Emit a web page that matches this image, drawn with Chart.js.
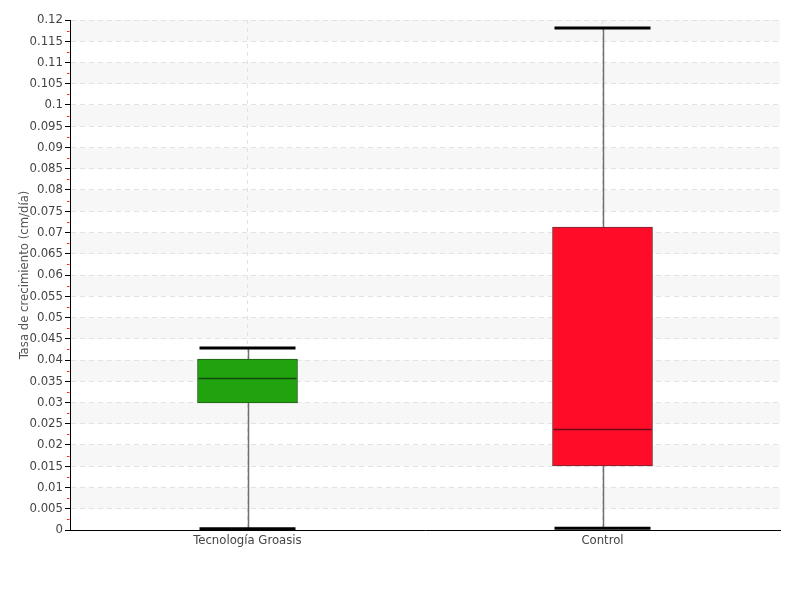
<!DOCTYPE html>
<html lang="es">
<head>
    <meta charset="UTF-8">
    <title>Tasa de crecimiento</title>
    <script src="https://cdn.jsdelivr.net/npm/chart.js"></script>
    <style>
        html, body { margin: 0; padding: 0; background: #fff; }
        #wrap { width: 800px; height: 600px; }
    </style>
</head>
<body>
    <div id="wrap"><canvas id="chart" width="800" height="600"></canvas></div>

    <script>
        // data
        const categories = ['Tecnología Groasis', 'Control'];
        const whiskerMin = [0.0003, 0.0004];
        const q1Values = [0.0299, 0.0151];
        const medianValues = [0.0358, 0.0238];
        const q3Values = [0.0402, 0.0713];
        const whiskerMax = [0.0428, 0.1181];
        const boxColors = ['#22a20f', '#ff0c28'];
        const boxBorders = ['#1f5a17', '#6e2a30'];
        const medianColors = ['#0f4a0c', '#6a0a16'];

        const yMin = 0, yMax = 0.12, yStep = 0.005;
        const fontFamily = '"DejaVu Sans Condensed", "Liberation Sans Narrow", "Roboto", sans-serif';

        // light grey bands behind every second grid row (drawn under the grid)
        const bandPlugin = {
            id: 'bands',
            beforeDraw(chart) {
                const { ctx, chartArea, scales: { y } } = chart;
                ctx.save();
                ctx.fillStyle = '#f7f7f7';
                const n = Math.round((yMax - yMin) / yStep);
                for (let k = 1; k < n; k += 2) {
                    const top = y.getPixelForValue(yMin + (k + 1) * yStep);
                    const bottom = y.getPixelForValue(yMin + k * yStep);
                    ctx.fillRect(chartArea.left + 1, top, chartArea.right - chartArea.left - 1, bottom - top);
                }
                ctx.restore();
            }
        };

        // whiskers, caps and medians around the floating bars
        const boxPlugin = {
            id: 'boxParts',
            beforeDatasetsDraw(chart) {
                const { ctx, scales: { x, y } } = chart;
                ctx.save();
                categories.forEach((c, i) => {
                    const cx = Math.round(x.getPixelForValue(i)) + 0.5;
                    ctx.strokeStyle = '#707070';
                    ctx.lineWidth = 1.5;
                    ctx.beginPath();
                    ctx.moveTo(cx, y.getPixelForValue(whiskerMin[i]));
                    ctx.lineTo(cx, y.getPixelForValue(whiskerMax[i]));
                    ctx.stroke();
                });
                ctx.restore();
            },
            afterDatasetsDraw(chart) {
                const { ctx, scales: { y } } = chart;
                const meta = chart.getDatasetMeta(0);
                ctx.save();
                categories.forEach((c, i) => {
                    const bar = meta.data[i];
                    const half = bar.width / 2;
                    const cx = bar.x;
                    // caps
                    ctx.strokeStyle = '#000';
                    ctx.lineWidth = 3;
                    [whiskerMin[i], whiskerMax[i]].forEach(v => {
                        const py = y.getPixelForValue(v);
                        ctx.beginPath();
                        ctx.moveTo(cx - half + 2, py);
                        ctx.lineTo(cx + half - 2, py);
                        ctx.stroke();
                    });
                    // median
                    const my = Math.round(y.getPixelForValue(medianValues[i])) + 0.5;
                    ctx.strokeStyle = medianColors[i];
                    ctx.lineWidth = 1.5;
                    ctx.beginPath();
                    ctx.moveTo(cx - half + 1, my);
                    ctx.lineTo(cx + half - 1, my);
                    ctx.stroke();
                });
                ctx.restore();
            },
            afterDraw(chart) {
                // red minor ticks between the major ones
                const { ctx, chartArea, scales: { y } } = chart;
                ctx.save();
                ctx.strokeStyle = '#ff2a2a';
                ctx.lineWidth = 1;
                const n = Math.round((yMax - yMin) / yStep);
                for (let k = 0; k < n; k++) {
                    const py = Math.round(y.getPixelForValue(yMin + (k + 0.5) * yStep)) + 0.5;
                    ctx.beginPath();
                    ctx.moveTo(chartArea.left - 3, py);
                    ctx.lineTo(chartArea.left - 0.5, py);
                    ctx.stroke();
                }
                ctx.restore();
            }
        };

        const ctx = document.getElementById('chart').getContext('2d');
        new Chart(ctx, {
            type: 'bar',
            data: {
                labels: categories,
                datasets: [{
                    label: 'Caja',
                    data: categories.map((c, i) => [q1Values[i], q3Values[i]]),
                    backgroundColor: boxColors,
                    borderColor: boxBorders,
                    borderWidth: 1,
                    borderSkipped: false,
                    barThickness: 100
                }]
            },
            options: {
                responsive: false,
                animation: false,
                events: [],
                layout: { padding: { top: 20, right: 20, left: 0, bottom: 0 } },
                plugins: {
                    legend: { display: false },
                    tooltip: { enabled: false }
                },
                scales: {
                    x: {
                        type: 'category',
                        offset: true,
                        grid: {
                            display: true,
                            offset: false,
                            color: '#e2e2e2',
                            drawTicks: false
                        },
                        border: { display: true, color: '#000', width: 1, dash: [4, 4] },
                        ticks: {
                            color: '#444',
                            padding: 3,
                            font: { family: fontFamily, size: 13 }
                        },
                        afterFit(scale) { scale.height = 70; }
                    },
                    y: {
                        min: yMin,
                        max: yMax,
                        ticks: {
                            stepSize: yStep,
                            color: '#444',
                            padding: 2,
                            font: { family: fontFamily, size: 13 }
                        ,
                            callback: v => String(+Number(v).toFixed(4))
                        },
                        grid: {
                            color: '#e2e2e2',
                            tickColor: '#000',
                            tickLength: 5,
                            tickBorderDash: []
                        },
                        border: { display: true, color: '#000', width: 1, dash: [5, 4] },
                        title: {
                            display: true,
                            text: 'Tasa de crecimiento (cm/día)',
                            color: '#555',
                            padding: { top: 17, bottom: 0 },
                            font: { family: fontFamily, size: 13 }
                        },
                        afterFit(scale) { scale.width = 70; }
                    }
                }
            },
            plugins: [bandPlugin, boxPlugin]
        });
    </script>
</body>
</html>
